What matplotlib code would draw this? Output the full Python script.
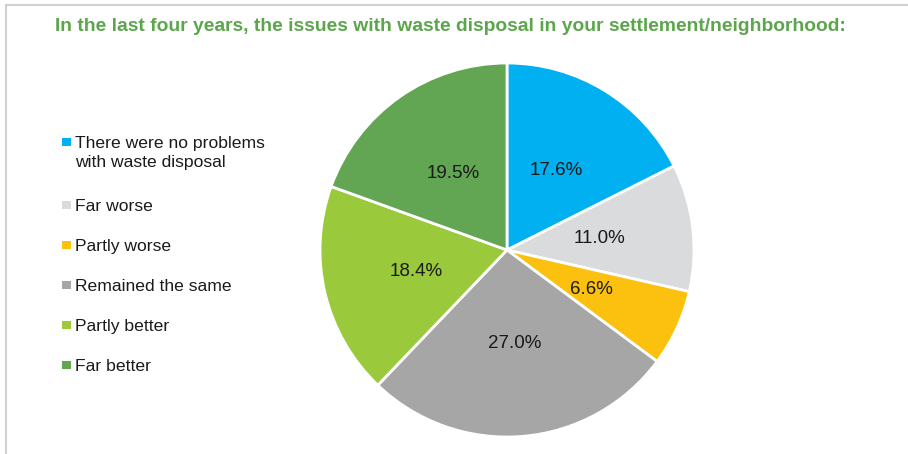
import matplotlib
matplotlib.use("Agg")
import matplotlib.pyplot as plt
from matplotlib.patches import Rectangle
from matplotlib.lines import Line2D

categories = ["There were no problems\nwith waste disposal", "Far worse", "Partly worse",
              "Remained the same", "Partly better", "Far better"]
values = [17.6, 11.0, 6.6, 27.0, 18.4, 19.5]
labels = ["17.6%", "11.0%", "6.6%", "27.0%", "18.4%", "19.5%"]
colors = ["#00B0F0", "#DADBDC", "#FCC00F", "#A6A6A6", "#9BC93C", "#62A552"]
title = "In the last four years, the issues with waste disposal in your settlement/neighborhood:"

plt.rcParams['font.family'] = ['Liberation Sans', 'DejaVu Sans']

W, H = 908, 454
fig = plt.figure(figsize=(W / 100, H / 100), dpi=100)
fig.patch.set_facecolor("white")

# border lines (top and left)
fig.add_artist(Line2D([6 / W, 1], [1 - 5 / H, 1 - 5 / H], color="#D0D0D0", lw=1.5))
fig.add_artist(Line2D([6 / W, 6 / W], [0, 1 - 5 / H], color="#D0D0D0", lw=1.5))

# title
fig.text(450 / W, 1 - 31 / H, title, ha="center", va="baseline", color="#5BA64B",
         fontsize=13.85, fontweight="bold")

# pie
cx, cy, r = 507, 250, 187
ax = fig.add_axes([(cx - r) / W, 1 - (cy + r) / H, 2 * r / W, 2 * r / H])
wedges, texts = ax.pie(values, colors=colors, startangle=90, counterclock=False,
                       radius=1.0, labels=labels, labeldistance=0.5,
                       wedgeprops=dict(edgecolor="white", linewidth=2),
                       textprops=dict(fontsize=13.5, color="#1a1a1a"))
for t in texts:
    t.set_ha("center")
    t.set_va("center")
ax.set_xlim(-1, 1)
ax.set_ylim(-1, 1)
ax.set_aspect("equal")
ax.axis("off")

# legend (manual)
baselines = [148, 211, 251, 291, 331, 371]
line_gap = 19
for lab, col, yb in zip(categories, colors, baselines):
    fig.add_artist(Rectangle((62 / W, 1 - (yb - 2) / H), 8.5 / W, 8.5 / H,
                             transform=fig.transFigure, facecolor=col, edgecolor="none"))
    for i, line in enumerate(lab.split("\n")):
        fig.text(75 / W, 1 - (yb + i * line_gap) / H, line, ha="left", va="baseline",
                 fontsize=12.6, color="#1a1a1a")

fig.savefig("out.png", dpi=100, facecolor="white")
